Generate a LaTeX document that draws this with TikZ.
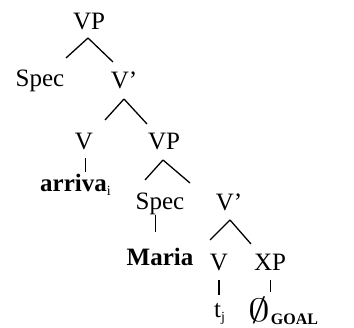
\documentclass[tikz,border=0pt]{standalone}
\usepackage{amssymb}
\usepackage{fontspec}
\setmainfont{Liberation Serif}
\usetikzlibrary{calc}
\begin{document}
\begin{tikzpicture}[x=1pt,y=-1pt,
  lab/.style={anchor=base,inner sep=0pt,font=\fontsize{25}{28}\selectfont},
  edge/.style={line width=1.3pt},
  tick/.style={line width=1pt}]
\useasboundingbox (0,0) rectangle (354,328);
\node[lab] (vp1) at (89,30) {VP};
\node[lab] (spec1) at (40,87) {Spec};
\node[lab] (vb1) at (124,89) {V'};
\node[lab] (v1) at (84,150) {V};
\node[lab] (vp2) at (164,150) {VP};
\node[lab,anchor=base west] (arriva) at (40,192) {\textbf{arriva}\textsubscript{\fontsize{14}{16}\selectfont i}};
\node[lab] (spec2) at (160,210) {Spec};
\node[lab] (vb2) at (229,211) {V'};
\node[lab] (maria) at (160,266) {\textbf{Maria}};
\node[lab] (v2) at (219,271) {V};
\node[lab] (xp) at (270,271) {XP};
\node[lab,anchor=base west] (t) at (214,318) {t\textsubscript{\fontsize{14}{16}\selectfont j}};
\node[lab,anchor=base west] (goal) at (248,322) {\scalebox{1.75}[1.3]{$\emptyset$}\kern1pt\raisebox{-3pt}{\fontsize{16}{16}\selectfont\textbf{GOAL}}};
% branches
\draw[edge] ($(vp1.base)+(-1,8)$) -- ($(spec1.base)+(26,-29)$);
\draw[edge] ($(vp1.base)+(-1,8)$) -- ($(vb1.base)+(-11,-27)$);
\draw[edge] ($(vb1.base)+(0,10)$) -- ($(v1.base)+(21,-30)$);
\draw[edge] ($(vb1.base)+(0,10)$) -- ($(vp2.base)+(-17,-26)$);
\draw[edge] ($(vp2.base)+(-1,10)$) -- ($(spec2.base)+(-15,-30)$);
\draw[edge] ($(vp2.base)+(-1,10)$) -- ($(vb2.base)+(-39,-28)$);
\draw[edge] ($(vb2.base)+(1,9)$) -- ($(v2.base)+(-9,-31)$);
\draw[edge] ($(vb2.base)+(1,9)$) -- ($(xp.base)+(-19,-27)$);
% ticks
\draw[tick] ($(v1.base)+(1,8)$) -- ($(arriva.base west)+(45,-20)$);
\draw[tick] ($(spec2.base)+(-5,5)$) -- ($(maria.base)+(-5,-34)$);
\draw[line width=2pt] ($(v2.base)+(0,9)$) -- ($(t.base west)+(5,-23)$);
\draw[tick] ($(xp.base)+(0,9)$) -- ($(goal.base west)+(22,-30)$);
\end{tikzpicture}
\end{document}
